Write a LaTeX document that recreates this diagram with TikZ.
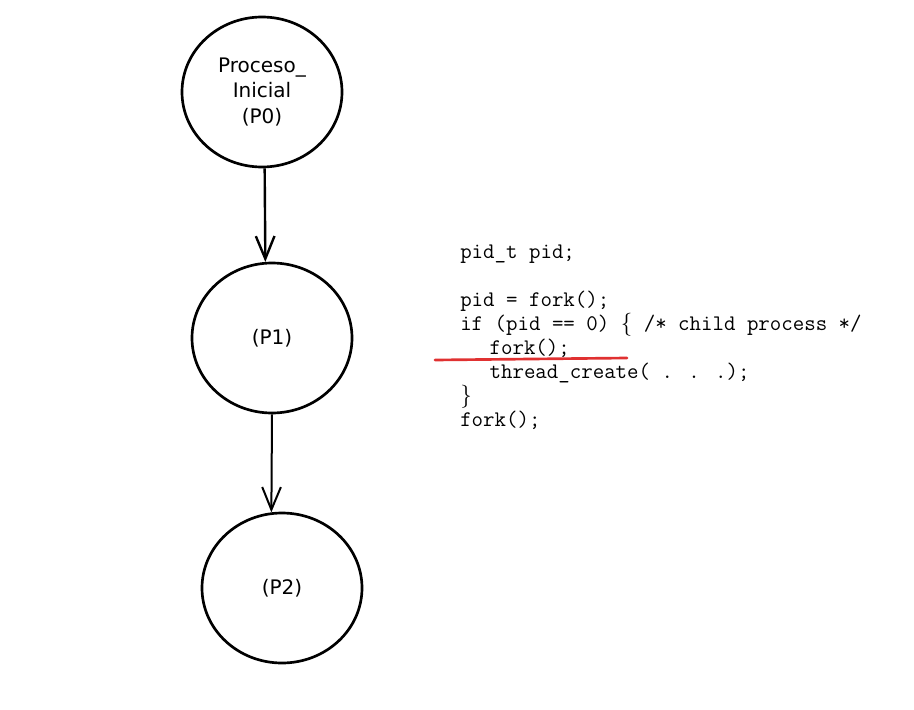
\documentclass[tikz,border=0pt]{standalone}
\usepackage{fontspec}
\usepackage{xcolor}
\usetikzlibrary{shapes.geometric,arrows.meta}
\newfontfamily\handfont{DejaVu Sans}
\definecolor{markred}{RGB}{224,49,49}

\begin{document}
\begin{tikzpicture}[x=0.75pt,y=-0.75pt,
    proc/.style={draw,ellipse,line width=2pt,minimum width=120pt,minimum height=112.5pt,inner sep=0pt,align=center,font=\handfont\fontsize{15}{19}\selectfont},
    link/.style={-{Straight Barb[length=17pt,width=14pt]},line width=1.8pt}]
				\useasboundingbox (0,0) rectangle (914,710);
				% processes
				\node[proc] (p0) at (262,92) {Proceso\_\\Inicial\\(P0)};
				\node[proc] (p1) at (272,338) {(P1)};
				\node[proc] (p2) at (282,588) {(P2)};
				\draw[link] (p0.-88) -- (p1.95);
				\draw[link,line width=1.5pt] (p1.south) -- (p2.98);
				% code
				\node[anchor=north west,inner sep=0pt,align=left,font=\ttfamily\fontsize{16.7}{18}\selectfont] (code) at (460,245)
				  {pid\_t pid;\\[18pt]
				   pid = fork();\\
				   if (pid == 0) $\{$ /* child process */\\
				   \hspace*{22pt}fork();\\
				   \hspace*{22pt}thread\_create( . . .);\\
				   $\}$\\
				   fork();};
				\coordinate (u1) at (435,360);
				\coordinate (u2) at (627,358);
				\draw[markred,line width=2pt,line cap=round] (u1) -- (u2);
			\end{tikzpicture}
\end{document}
